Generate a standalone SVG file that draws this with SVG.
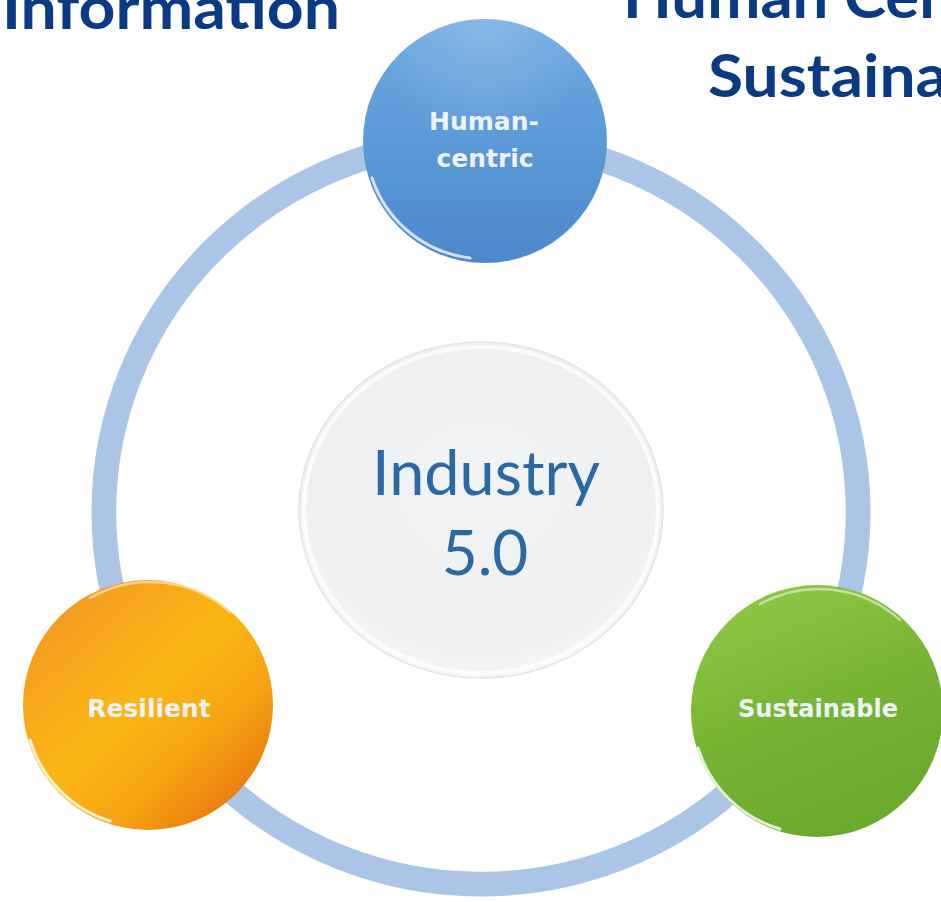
<svg xmlns="http://www.w3.org/2000/svg" width="941" height="902" viewBox="0 0 941 902">
  <style>
    .title { font-family: Lato, "Open Sans", "Liberation Sans", sans-serif; font-weight: 700; font-size: 60px; fill: #0b3a84; }
    .label { font-family: "DejaVu Sans", Verdana, sans-serif; font-weight: 700; font-size: 25px; fill: #eef3f7; text-anchor: middle; }
    .core { font-family: Lato, "Open Sans", "Liberation Sans", sans-serif; font-size: 62px; fill: #2b68a6; text-anchor: middle; }
    .gloss { fill: none; stroke: #ffffff; stroke-linecap: round; }
  </style>
  <defs>
    <linearGradient id="gBlue" x1="0" y1="0" x2="0" y2="1">
      <stop offset="0" stop-color="#6fa9e2"/>
      <stop offset="0.45" stop-color="#5e9bd9"/>
      <stop offset="1" stop-color="#4c88cb"/>
    </linearGradient>
    <linearGradient id="gOrange" x1="0.1" y1="0.1" x2="0.9" y2="0.95">
      <stop offset="0" stop-color="#f39a22"/>
      <stop offset="0.45" stop-color="#fbb615"/>
      <stop offset="0.7" stop-color="#f5a413"/>
      <stop offset="1" stop-color="#e7700d"/>
    </linearGradient>
    <linearGradient id="gGreen" x1="0.2" y1="0" x2="0.6" y2="1">
      <stop offset="0" stop-color="#90c846"/>
      <stop offset="0.5" stop-color="#78b434"/>
      <stop offset="1" stop-color="#69a92c"/>
    </linearGradient>
    <radialGradient id="gCore" cx="0.5" cy="0.45" r="0.55">
      <stop offset="0" stop-color="#f2f3f5"/>
      <stop offset="0.85" stop-color="#eff0f2"/>
      <stop offset="1" stop-color="#f6f7f8"/>
    </radialGradient>
    <radialGradient id="gShine" cx="0.5" cy="0.05" r="0.45">
      <stop offset="0" stop-color="#ffffff" stop-opacity="0.18"/>
      <stop offset="1" stop-color="#ffffff" stop-opacity="0"/>
    </radialGradient>
  </defs>

  <rect width="941" height="902" fill="#ffffff"/>

  <g id="headings">
    <text class="title" x="2" y="29" textLength="338" lengthAdjust="spacingAndGlyphs">Information</text>
    <text class="title" x="623" y="18" textLength="332" lengthAdjust="spacingAndGlyphs">Human Cen</text>
    <text class="title" x="708" y="97" textLength="240" lengthAdjust="spacingAndGlyphs">Sustaina</text>
  </g>

  <g id="connectors">
    <ellipse cx="481" cy="512" rx="377" ry="372" fill="none" stroke="#abc5e7" stroke-width="25"/>
    <ellipse cx="481" cy="512" rx="364" ry="359" fill="none" stroke="#ffffff" stroke-opacity="0.8" stroke-width="1.5"/>
  </g>

  <g id="node-core">
    <ellipse cx="481" cy="510" rx="182" ry="168" fill="url(#gCore)" stroke="#e2e4e7" stroke-width="1.5"/>
    <ellipse cx="481" cy="510" rx="177" ry="163" fill="none" stroke="#ffffff" stroke-width="4" stroke-opacity="0.8"/>
    <text class="core" x="486" y="495" textLength="228" lengthAdjust="spacingAndGlyphs">Industry</text>
    <text class="core" x="485" y="575">5.0</text>
  </g>

  <g id="node-human">
    <circle cx="485" cy="141" r="122" fill="url(#gBlue)"/>
    <circle cx="485" cy="141" r="122" fill="url(#gShine)"/>
    <path class="gloss" d="M 372 178 A 118 118 0 0 0 470 258" stroke-width="3" stroke-opacity="0.75"/>
    <path class="gloss" d="M 410 40 A 118 118 0 0 1 560 40" stroke-width="2.5" stroke-opacity="0.45"/>
    <text class="label" x="484" y="130">Human-</text>
    <text class="label" x="485" y="167">centric</text>
  </g>

  <g id="node-resilient">
    <circle cx="148" cy="705" r="125" fill="url(#gOrange)"/>
    <path class="gloss" d="M 30 740 A 121 121 0 0 0 110 821" stroke-width="3" stroke-opacity="0.8"/>
    <path class="gloss" d="M 90 598 A 121 121 0 0 1 230 612" stroke-width="2.5" stroke-opacity="0.5"/>
    <text class="label" x="149" y="717">Resilient</text>
  </g>

  <g id="node-sustainable">
    <circle cx="817" cy="711" r="126" fill="url(#gGreen)"/>
    <path class="gloss" d="M 698 748 A 122 122 0 0 0 780 829" stroke-width="3" stroke-opacity="0.8"/>
    <path class="gloss" d="M 760 604 A 122 122 0 0 1 900 620" stroke-width="2.5" stroke-opacity="0.5"/>
    <text class="label" x="818" y="717" textLength="160" lengthAdjust="spacingAndGlyphs">Sustainable</text>
  </g>
</svg>
